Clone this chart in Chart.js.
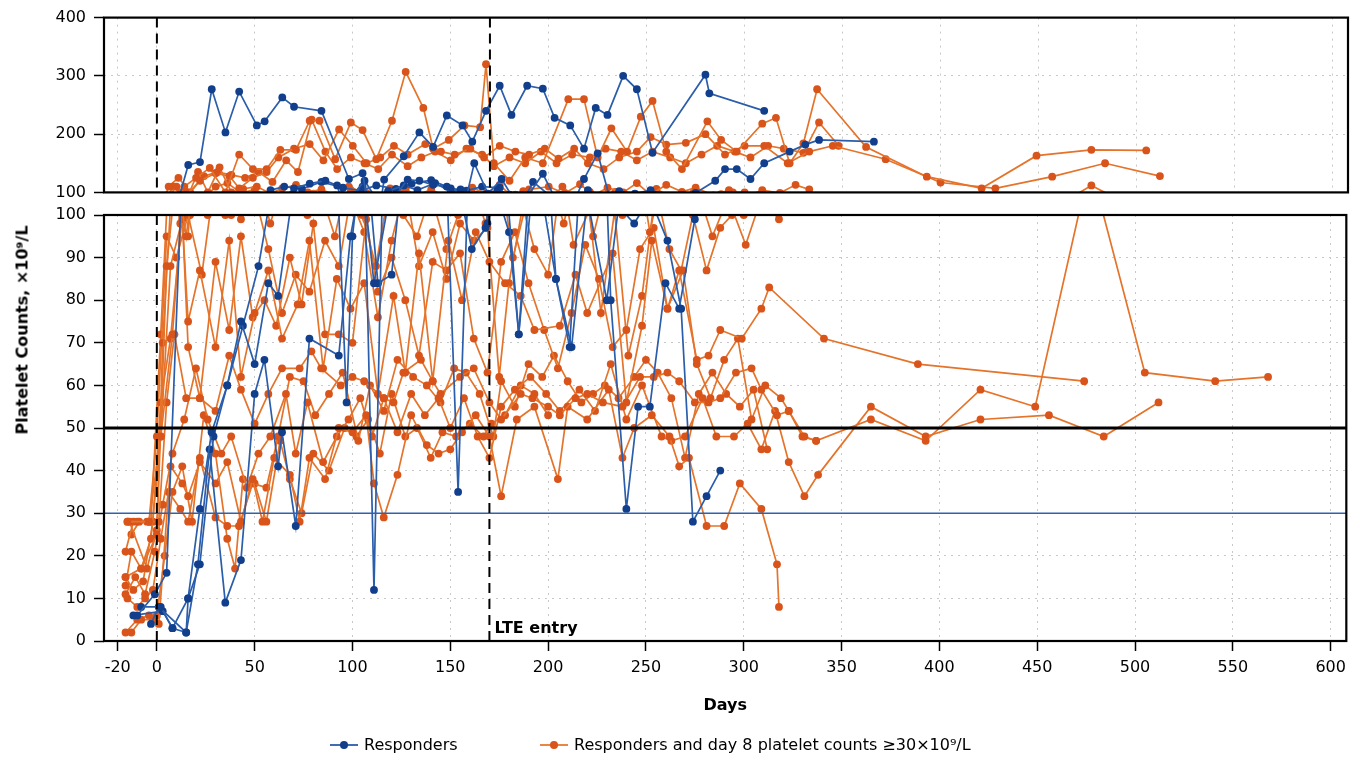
<!DOCTYPE html>
<html>
<head>
<meta charset="utf-8">
<script src="https://cdn.jsdelivr.net/npm/chart.js@4.4.1/dist/chart.umd.min.js"></script>
<style>
html,body{margin:0;padding:0;background:#fff;}
#wrap{position:relative;width:1353px;height:757px;overflow:hidden;font-family:"DejaVu Sans",sans-serif;color:#000;}
canvas{position:absolute;left:0;top:0;}
#ytitle{position:absolute;left:22px;top:330px;transform:translate(-50%,-50%) rotate(-90deg);white-space:nowrap;font-weight:bold;font-size:16px;}
.lg{position:absolute;top:735px;display:flex;align-items:center;font-size:16px;white-space:nowrap;line-height:20px;}
.lg svg{margin-right:6px;}
</style>
</head>
<body>
<div id="wrap">
  <canvas id="cBot" width="1353" height="757"></canvas>
  <canvas id="cTop" width="1353" height="210"></canvas>
  <div id="ytitle">Platelet Counts, ×10⁹/L</div>
  <div class="lg" style="left:330px;"><svg width="28" height="10"><line x1="0" y1="5" x2="28" y2="5" stroke="#2a5daa" stroke-width="1.8"/><circle cx="14" cy="5" r="4" fill="#123f8c"/></svg><span>Responders</span></div>
  <div class="lg" style="left:540px;"><svg width="28" height="10"><line x1="0" y1="5" x2="28" y2="5" stroke="#e57a2e" stroke-width="1.8"/><circle cx="14" cy="5" r="4" fill="#d9541a"/></svg><span>Responders and day 8 platelet counts ≥30×10⁹/L</span></div>
</div>
<script>
// ---------- DATA ----------
const xTicks = [-20, 0, 50, 100, 150, 200, 250, 300, 350, 400, 450, 500, 550, 600];
const yTicksBottom = [0, 10, 20, 30, 40, 50, 60, 70, 80, 90, 100];
const yTicksTop = [100, 200, 300, 400];
const refDays = [0, 170];          // dashed verticals (day 0, LTE entry)
const lteDay = 170;
const threshold50 = 50;
const threshold30 = 30;

// Responders (blue): [day, platelet count ×10^9/L]
const responder1 = [[-10,6],[-1,11],[5,16],[16,147],[22,152],[28,277],[35,203],[42,273],[51,215],[55,222],[64,263],[70,247],[84,240],[98,123],[105,133],[111,12],[116,122],[126,162],[134,203],[141,178],[148,232],[156,215],[161,187],[168,240],[175,283],[181,233],[189,283],[197,278],[203,228],[211,215],[218,175],[224,245],[230,233],[238,300],[245,277],[253,168],[280,302],[282,270],[310,240]];
const responder2 = [[-8,8],[2,8],[8,3],[15,2],[16,10],[22,31],[28,49],[36,60],[43,75],[50,65],[57,84],[62,81],[70,107],[78,115],[86,120],[92,112],[97,56],[100,95],[106,120],[113,84],[120,86],[128,122],[134,120],[141,113],[148,110],[154,35],[162,150],[169,98],[176,123],[185,72],[197,132],[204,85],[211,69],[218,123],[225,167],[232,80],[240,31],[246,55],[252,55],[260,84],[267,78],[275,99],[285,120],[290,140],[296,140],[303,123],[310,150],[323,170],[331,182],[338,190],[366,187]];
const responder3 = [[-3,4],[1,8],[15,2],[21,18],[27,45],[35,9],[43,19],[50,58],[55,66],[62,41],[64,49],[71,27],[78,71],[93,67],[99,95],[105,110],[111,84],[118,102],[126,112],[133,104],[142,116],[150,101],[155,105],[161,92],[168,97],[174,105],[180,96],[185,72],[192,118],[204,85],[212,69],[220,104],[230,80],[236,102],[244,98],[252,104],[261,94],[268,78],[274,28],[281,34],[288,40]];
const responder4 = [[-12,6],[3,7],[8,3],[16,10],[22,18],[29,48],[36,60],[44,74],[52,88],[58,104],[65,110],[74,106],[84,118],[95,108],[104,103],[112,112],[122,106],[130,115],[140,121],[150,107],[158,103],[166,110],[175,108]];

// Responders with day-8 platelet counts >= 30 (orange)
const day8Resp1 = [[-15,28],[-4,28],[2,48],[8,72],[14,110],[20,125],[27,142],[35,100],[42,165],[49,140],[56,140],[63,173],[71,173],[78,223],[83,223],[91,157],[99,220],[105,207],[112,157],[120,223],[127,307],[136,245],[141,175],[149,190],[157,215],[165,212],[168,320],[172,150],[180,120],[188,160],[197,150],[210,260],[218,260],[225,160],[232,210],[240,170],[247,230],[253,257],[260,170],[268,140],[281,222],[288,190],[296,170],[309,218],[316,228],[323,150],[330,184],[337,277],[362,178],[393,127],[421,107],[449,163],[477,173],[505,172]];
const day8Resp2 = [[-16,15],[-8,17],[0,25],[5,88],[10,110],[15,95],[22,120],[30,133],[37,128],[42,107],[49,125],[56,135],[62,160],[70,175],[78,183],[85,155],[93,208],[100,180],[107,150],[114,160],[121,180],[128,165],[137,183],[145,170],[152,165],[160,175],[167,160],[175,180],[183,170],[190,165],[198,175],[205,158],[213,175],[220,150],[228,140],[236,160],[245,170],[252,195],[260,182],[270,185],[280,200],[290,165],[300,180],[310,180],[322,150],[333,170],[345,180],[372,157],[400,117],[428,107],[457,127],[484,150],[512,128]];
const day8Resp3 = [[-16,13],[-13,21],[-8,17],[-3,24],[2,48],[7,88],[13,99],[16,75],[22,87],[30,69],[37,94],[43,62],[50,77],[57,87],[64,71],[72,79],[78,94],[85,64],[92,85],[99,78],[106,84],[113,58],[121,81],[127,63],[134,91],[141,61],[149,94],[156,80],[163,96],[170,89],[178,84],[186,81],[193,73],[206,74],[214,86],[220,77],[233,91],[240,56],[248,74],[253,94],[261,78],[267,87],[276,66],[282,67],[288,73],[299,71],[309,78],[313,83],[341,71],[389,65],[474,61]];
const day8Resp4 = [[-15,28],[-10,28],[-5,28],[1,28],[5,56],[9,72],[15,57],[22,57],[30,54],[37,67],[43,59],[50,51],[57,58],[64,64],[73,64],[79,68],[84,64],[94,60],[100,62],[106,61],[116,57],[121,56],[126,63],[135,66],[141,61],[145,58],[155,62],[162,64],[170,56],[176,52],[186,58],[192,57],[200,55],[206,53],[214,57],[220,58],[228,56],[238,55],[247,62],[254,62],[261,63],[267,61],[275,56],[282,56],[288,57],[296,63],[304,64],[309,59],[317,53],[323,54],[331,48],[337,47],[365,52],[393,47],[421,59],[449,55],[477,112],[505,63],[541,61],[568,62]];
const day8Resp5 = [[-13,2],[-8,5],[-2,5],[1,4],[7,41],[13,37],[16,34],[22,42],[30,37],[36,42],[43,28],[49,38],[54,28],[60,43],[68,39],[73,28],[78,43],[86,38],[93,50],[100,49],[107,53],[111,37],[116,29],[123,39],[130,53],[138,46],[144,44],[150,45],[156,49],[163,53],[170,48],[176,34],[184,52],[193,55],[205,38],[210,55],[220,52],[231,59],[238,43],[244,50],[253,53],[262,48],[267,41],[272,43],[281,27],[290,27],[298,37],[309,31],[317,18],[318,8]];
const day8Resp6 = [[-16,11],[-11,15],[-6,11],[-1,21],[3,32],[8,44],[14,52],[20,64],[26,52],[33,44],[38,48],[46,36],[52,44],[58,48],[66,58],[71,44],[77,56],[85,42],[92,48],[98,52],[104,57],[110,48],[116,57],[123,49],[130,58],[137,53],[144,57],[150,50],[157,57],[164,48],[170,43],[176,55],[183,59],[191,62],[199,58],[206,54],[216,59],[224,54],[232,65],[240,52],[248,60],[258,48],[263,47],[270,48],[279,57],[286,48],[295,48],[302,51],[309,45],[316,54],[323,42],[331,34],[338,39],[365,55],[393,48],[421,52],[456,53],[484,48],[512,56]];
const day8Resp7 = [[-14,28],[-5,17],[0,26],[3,70],[8,110],[12,98],[16,95],[21,135],[26,100],[32,143],[38,100],[44,106],[51,110],[58,98],[64,107],[71,113],[77,100],[84,105],[91,95],[98,110],[105,100],[112,88],[119,107],[126,100],[133,95],[140,105],[148,92],[154,100],[161,108],[168,98],[175,113],[182,90],[190,105],[200,110],[208,98],[216,114],[223,95],[230,108],[238,100],[245,116],[252,96],[260,113],[268,101],[275,108],[284,95],[292,104],[301,93],[309,104],[318,99],[326,113],[333,105]];
const day8Resp8 = [[-16,15],[-12,12],[-7,14],[-2,28],[2,56],[7,71],[13,100],[16,69],[22,57],[30,89],[37,73],[43,95],[49,76],[55,80],[61,74],[68,90],[74,79],[80,98],[86,72],[93,72],[100,70],[107,99],[113,82],[120,90],[127,80],[134,67],[141,89],[148,87],[155,91],[162,71],[169,63],[176,89],[183,96],[190,84],[198,73],[205,64],[212,77],[219,93],[226,85],[233,69],[240,73],[247,92],[254,97],[261,78],[269,87],[276,65],[283,57],[290,66],[297,71],[304,52],[311,60],[319,57],[323,54],[330,48],[337,47]];
const day8Resp9 = [[-16,21],[-12,28],[-4,28],[0,48],[5,95],[10,90],[16,100],[23,86],[30,110],[36,116],[43,99],[50,105],[57,92],[64,77],[71,86],[78,82],[86,94],[93,88],[99,104],[106,96],[113,76],[120,94],[127,107],[134,88],[141,96],[148,85],[155,98],[162,94],[169,97],[175,62],[180,84],[187,102],[193,92],[200,86],[207,110],[213,93],[221,101],[227,77],[234,101],[241,67],[248,81],[255,106],[262,92],[268,87],[274,100],[281,87],[288,97],[294,100],[300,100]];
const day8Resp10 = [[-15,10],[-10,8],[-6,10],[-2,12],[2,24],[6,35],[12,31],[16,28],[22,43],[30,29],[36,27],[42,27],[49,37],[56,36],[62,48],[68,62],[75,61],[81,53],[88,58],[95,63],[103,47],[109,60],[116,54],[123,66],[131,62],[138,60],[145,56],[152,64],[158,63],[165,58],[172,48],[176,61],[183,55],[190,65],[197,62],[203,67],[210,61],[217,56],[223,58],[229,60],[236,57],[244,62],[250,66],[256,63],[263,57],[270,43],[277,58],[284,63],[291,58],[298,55],[305,59],[312,45]];
const day8Resp11 = [[-13,25],[-9,28],[-3,28],[2,72],[6,110],[11,125],[17,100],[24,128],[31,135],[38,130],[45,125],[52,135],[59,118],[66,155],[72,135],[79,225],[86,170],[92,140],[99,160],[106,150],[113,140],[120,165],[128,145],[135,160],[142,170],[150,155],[158,175],[166,165],[172,145],[180,160],[188,150],[196,170],[204,150],[212,165],[221,160],[229,175],[237,170],[245,155],[253,170],[262,160],[270,150],[278,165],[286,180],[295,170],[303,160],[312,180],[320,175],[330,168],[338,220],[348,180]];
const day8Resp12 = [[-16,2],[-10,5],[-4,6],[0,6],[4,20],[8,35],[13,41],[18,28],[24,53],[30,44],[36,24],[40,17],[44,38],[50,37],[56,28],[63,47],[68,38],[74,30],[80,44],[88,40],[96,50],[102,48],[108,52],[114,44],[120,58],[127,48],[133,50],[140,43],[146,49],[153,48],[160,51],[167,48],[171,51],[178,53],[186,60],[193,58],[200,53]];

const responderSeries = [responder1, responder2, responder3, responder4];
const day8Series = [day8Resp1, day8Resp2, day8Resp3, day8Resp4, day8Resp5, day8Resp6, day8Resp7, day8Resp8, day8Resp9, day8Resp10, day8Resp11, day8Resp12];

// ---------- STYLE ----------
const BLUE_LINE = '#2a5daa', BLUE_PT = '#123f8c';
const ORANGE_LINE = '#e5732a', ORANGE_PT = '#d9541a';
const FONT = 'DejaVu Sans';
const X_MIN = -27, X_MAX = 608;

function buildDatasets() {
  const ds = [];
  const mk = (s, line, pt) => ({
    data: s.map(([x, y]) => ({x, y})),
    borderColor: line, backgroundColor: pt,
    pointBackgroundColor: pt, pointBorderWidth: 0, pointRadius: 3.9,
    borderWidth: 1.7, tension: 0
  });
  responderSeries.forEach(s => ds.push(mk(s, BLUE_LINE, BLUE_PT)));
  day8Series.forEach(s => ds.push(mk(s, ORANGE_LINE, ORANGE_PT)));
  return ds;
}

const panelPlugin = {
  id: 'panel',
  afterDatasetsDraw(chart, args, opts) {
    const {ctx, chartArea: a, scales: {x, y}} = chart;
    ctx.save();
    ctx.beginPath(); ctx.rect(a.left, a.top, a.width, a.height); ctx.clip();
    if (opts.hlines) {
      opts.hlines.forEach(h => {
        const py = y.getPixelForValue(h.value);
        ctx.strokeStyle = h.color; ctx.lineWidth = h.width;
        ctx.beginPath(); ctx.moveTo(a.left, py); ctx.lineTo(a.right, py); ctx.stroke();
      });
    }
    ctx.setLineDash([10, 6]); ctx.lineWidth = 2; ctx.strokeStyle = '#000';
    refDays.forEach(d => {
      const px = x.getPixelForValue(d);
      ctx.beginPath(); ctx.moveTo(px, a.top); ctx.lineTo(px, a.bottom); ctx.stroke();
    });
    ctx.setLineDash([]);
    ctx.restore();
    ctx.save();
    ctx.strokeStyle = '#000'; ctx.lineWidth = 2.2;
    ctx.strokeRect(a.left, a.top, a.width, a.height);
    if (opts.lte) {
      ctx.fillStyle = '#000';
      ctx.font = 'bold 16px "' + FONT + '"';
      ctx.textBaseline = 'middle'; ctx.textAlign = 'left';
      ctx.fillText('LTE entry', x.getPixelForValue(lteDay) + 5, a.bottom - 12);
    }
    ctx.restore();
  }
};

function xScale(showTicks) {
  return {
    type: 'linear', min: X_MIN, max: X_MAX,
    afterBuildTicks: s => { s.ticks = xTicks.map(v => ({value: v})); },
    afterFit: s => { s.height = showTicks ? 74 : 0; },
    ticks: {display: showTicks, autoSkip: false, maxRotation: 0, color: '#000', padding: 7,
            font: {family: FONT, size: 16}, callback: v => String(v)},
    grid: {color: '#c8c8c8', lineWidth: 1, drawTicks: showTicks, tickLength: 10,
           tickColor: '#000', tickWidth: 1.5, tickBorderDash: []},
    border: {display: false, dash: [2, 5]},
    title: {display: showTicks, text: 'Days', color: '#000', padding: {top: 0, bottom: 0},
            font: {family: FONT, size: 16, weight: 'bold'}}
  };
}
function yScale(min, max, ticksArr) {
  return {
    type: 'linear', min, max,
    afterBuildTicks: s => { s.ticks = ticksArr.map(v => ({value: v})); },
    afterFit: s => { s.width = 104; },
    ticks: {autoSkip: false, color: '#000', padding: 8, font: {family: FONT, size: 16}},
    grid: {color: '#c8c8c8', lineWidth: 1, drawTicks: true, tickLength: 10,
           tickColor: '#000', tickWidth: 1.5, tickBorderDash: []},
    border: {display: false, dash: [2, 5]}
  };
}

const common = {
  responsive: false, animation: false, devicePixelRatio: 1,
  plugins: {legend: {display: false}, tooltip: {enabled: false}},
  events: []
};

new Chart(document.getElementById('cBot'), {
  type: 'line',
  data: {datasets: buildDatasets()},
  options: Object.assign({}, common, {
    layout: {padding: {left: 0, right: 5, top: 215, bottom: 42}},
    scales: {x: xScale(true), y: yScale(0, 100, yTicksBottom)},
    plugins: Object.assign({}, common.plugins, {
      panel: {hlines: [{value: threshold30, color: '#2f62ad', width: 1.4},
                       {value: threshold50, color: '#000', width: 3}], lte: true}
    })
  }),
  plugins: [panelPlugin]
});

new Chart(document.getElementById('cTop'), {
  type: 'line',
  data: {datasets: buildDatasets()},
  options: Object.assign({}, common, {
    layout: {padding: {left: 0, right: 5, top: 17, bottom: 13}},
    scales: {x: xScale(false), y: yScale(100, 400, yTicksTop)},
    plugins: Object.assign({}, common.plugins, {panel: {lte: false}})
  }),
  plugins: [panelPlugin]
});
</script>
</body>
</html>
